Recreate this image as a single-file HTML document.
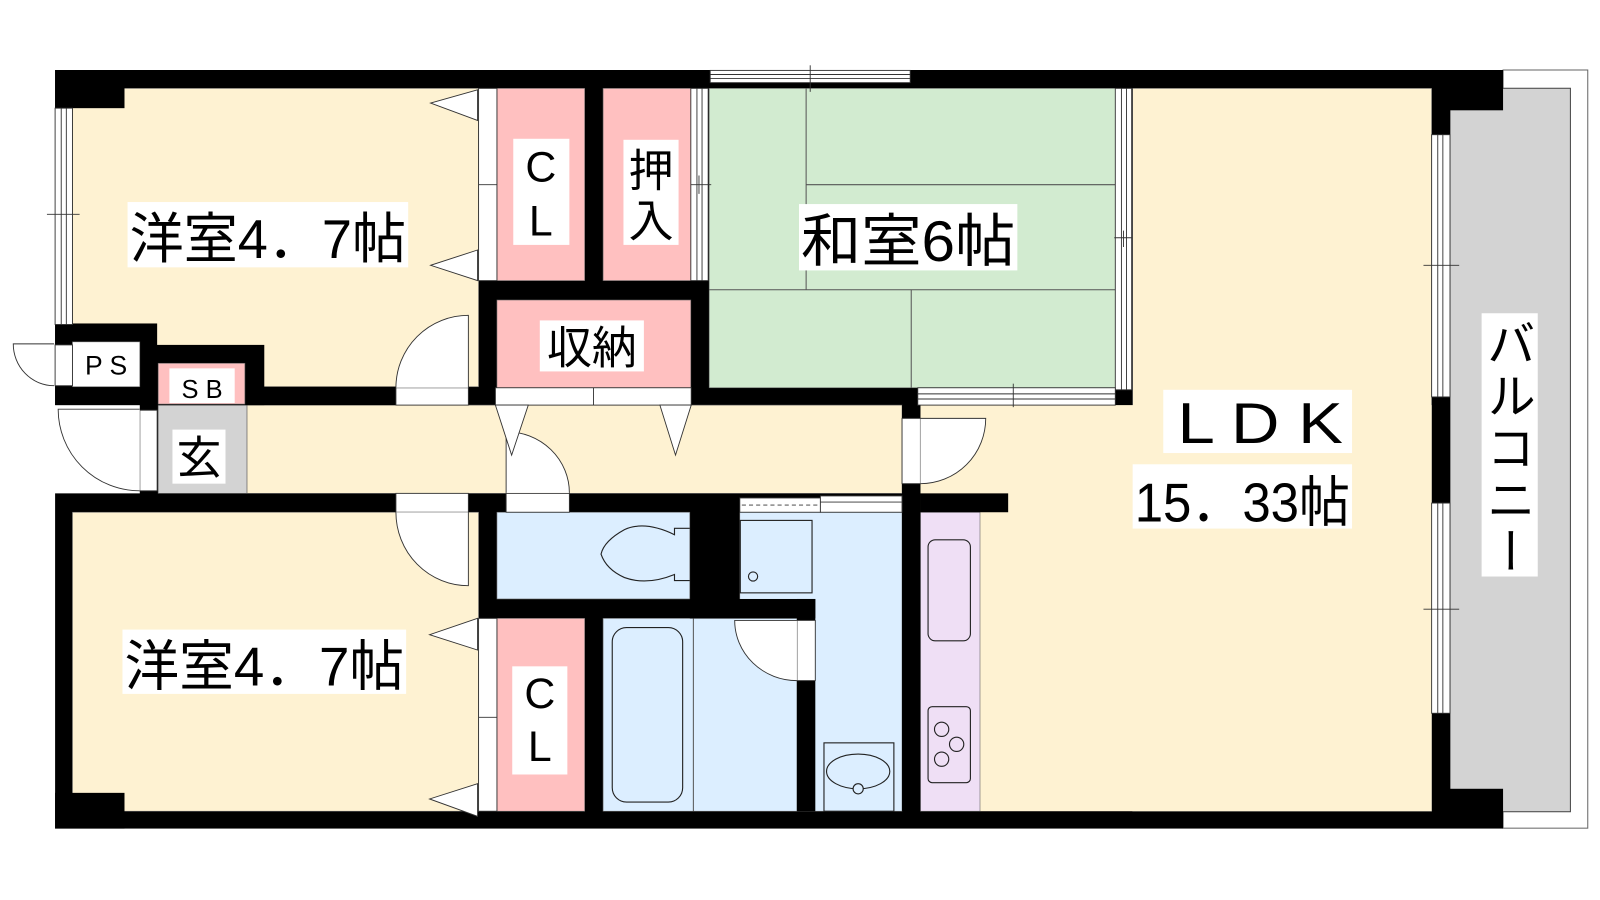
<!DOCTYPE html>
<html><head><meta charset="utf-8"><style>
html,body{margin:0;padding:0;background:#fff;}
svg{display:block;}
text{font-family:"Liberation Sans","Noto Sans CJK JP",sans-serif;fill:#000;}
</style></head><body>
<svg width="1600" height="900" viewBox="0 0 1568 882" preserveAspectRatio="none" xmlns="http://www.w3.org/2000/svg">
<rect x="0" y="0" width="1568" height="882" fill="#fff"/>
<rect x="1473" y="68.6" width="83" height="743" fill="#fff" stroke="#666" stroke-width="1"/>
<rect x="1421" y="86.5" width="118" height="709" fill="#d3d3d3" stroke="#444" stroke-width="1"/>
<rect x="54" y="68.6" width="1367" height="743.4" fill="#000"/>
<rect x="1421" y="68.6" width="52" height="39.5" fill="#000"/>
<rect x="1421" y="773" width="52" height="39" fill="#000"/>
<rect x="40" y="397" width="97" height="86.5" fill="#fff"/>
<g stroke="#666" stroke-width="0.6">
<rect x="71" y="86.6" width="398" height="292.4" fill="#fef2d2"/>
<rect x="487" y="86.6" width="86" height="188.4" fill="#ffc0c0"/>
<rect x="591" y="86.6" width="86" height="188.4" fill="#ffc0c0"/>
<rect x="695" y="86.6" width="398" height="293.4" fill="#d2ebd0"/>
<rect x="487" y="294" width="190" height="86" fill="#ffc0c0"/>
<rect x="242" y="397" width="642" height="86.5" fill="#fef2d2"/>
<rect x="155" y="397" width="87" height="86.5" fill="#d3d3d3"/>
<rect x="1110" y="86.6" width="293" height="708.4" fill="#fef2d2"/>
<rect x="902" y="397" width="501" height="398" fill="#fef2d2" stroke="none"/>
<rect x="902" y="502" width="58.4" height="293" fill="#efdff5"/>
<rect x="71" y="502" width="398" height="293" fill="#fef2d2"/>
<rect x="487" y="606" width="86" height="189" fill="#ffc0c0"/>
<rect x="487" y="502" width="189" height="85" fill="#dceeff"/>
<rect x="725" y="502" width="159" height="293" fill="#dceeff"/>
<rect x="591" y="606" width="190" height="189" fill="#dceeff"/>
</g>
<!-- walls re-drawn over rooms -->
<rect x="54" y="317" width="100" height="80" fill="#000"/>
<rect x="137" y="338" width="122" height="59" fill="#000"/>
<rect x="137" y="379" width="260" height="18" fill="#000"/>
<rect x="676" y="587" width="123" height="19" fill="#000"/>
<rect x="781" y="587" width="18" height="208" fill="#000"/>
<rect x="902" y="483.5" width="86" height="18.5" fill="#000"/>
<rect x="884" y="397" width="18" height="398" fill="#000"/>
<rect x="54" y="68.6" width="68" height="37.4" fill="#000"/>
<rect x="54" y="777" width="68" height="35" fill="#000"/>
<g stroke="#666" stroke-width="0.6">
<rect x="155" y="356" width="85" height="40" fill="#ffc0c0"/>
<rect x="71" y="335" width="66" height="44" fill="#fff"/>
</g>
<g stroke="#555" stroke-width="1" fill="none">
<line x1="790" y1="86.6" x2="790" y2="284"/>
<line x1="790" y1="181" x2="1093" y2="181"/>
<line x1="695" y1="284" x2="1093" y2="284"/>
<line x1="893" y1="284" x2="893" y2="380"/>
<line x1="679.5" y1="606" x2="679.5" y2="795"/>
</g>
<g fill="#fff" stroke="#333" stroke-width="0.9">
<rect x="54" y="106" width="17" height="212"/>
<line x1="60" y1="106" x2="60" y2="318"/><line x1="65" y1="106" x2="65" y2="318"/>
<line x1="46" y1="210" x2="78" y2="210"/>
<rect x="696" y="69" width="196" height="12"/>
<line x1="696" y1="73" x2="892" y2="73"/><line x1="696" y1="77" x2="892" y2="77"/>
<line x1="794" y1="64" x2="794" y2="90"/>
<rect x="677" y="86.6" width="17" height="188.4"/>
<line x1="683" y1="86.6" x2="683" y2="275"/><line x1="688" y1="86.6" x2="688" y2="275"/>
<line x1="677" y1="181" x2="697" y2="181"/><line x1="685" y1="172" x2="685" y2="190"/>
<rect x="1093" y="86.6" width="16" height="295.4"/>
<line x1="1099" y1="86.6" x2="1099" y2="382"/><line x1="1104" y1="86.6" x2="1104" y2="382"/>
<line x1="1092" y1="233" x2="1110" y2="233"/><line x1="1101" y1="226" x2="1101" y2="242"/>
<rect x="899.4" y="380" width="193.6" height="17"/>
<line x1="899.4" y1="386" x2="1093" y2="386"/><line x1="899.4" y1="391" x2="1093" y2="391"/>
<line x1="993" y1="376" x2="993" y2="399"/>
<rect x="1403" y="132" width="18" height="257"/>
<line x1="1409" y1="132" x2="1409" y2="389"/><line x1="1414" y1="132" x2="1414" y2="389"/>
<line x1="1395" y1="260" x2="1430" y2="260"/>
<rect x="1403" y="493" width="18" height="206"/>
<line x1="1409" y1="493" x2="1409" y2="699"/><line x1="1414" y1="493" x2="1414" y2="699"/>
<line x1="1395" y1="597" x2="1430" y2="597"/>
<rect x="725" y="488" width="79" height="14"/>
<line x1="727" y1="495" x2="802" y2="495" stroke-dasharray="4,3"/>
<rect x="804" y="486" width="80" height="16"/>
<line x1="804" y1="492" x2="884" y2="492"/>
<rect x="469" y="86.6" width="18" height="188.4"/>
<line x1="469" y1="181" x2="487" y2="181"/>
<rect x="469" y="606" width="18" height="189"/>
<line x1="469" y1="703" x2="487" y2="703"/>
<rect x="485.5" y="380" width="191.9" height="17"/>
<line x1="581.6" y1="380" x2="581.6" y2="397"/>
<rect x="388" y="380" width="71" height="17"/>
<rect x="388" y="483.5" width="71" height="18.5"/>
<rect x="496" y="483.5" width="62" height="18.5"/>
<rect x="884" y="410" width="18" height="64"/>
<rect x="781" y="608" width="18" height="59"/>
<rect x="137" y="402" width="17" height="79"/>
<rect x="54" y="338" width="17" height="40"/>
<path d="M459,380 L459,309 A71,71 0 0 0 388,380"/>
<path d="M459,502 L459,574 A71,72 0 0 1 388,502"/>
<path d="M137,401 L57,401 A80,80 0 0 0 137,481"/>
<path d="M53,337 L13,337 A40,41 0 0 0 53,378"/>
<path d="M496,483 L496,423 A62,60 0 0 1 558,483"/>
<path d="M902,410 L966,410 A64,64 0 0 1 902,474"/>
<path d="M781,608 L720,608 A61,59 0 0 0 781,667"/>
<polygon points="468,88 422,101 468,118"/>
<polygon points="468,245 422,260 468,275"/>
<polygon points="468,606 421,622 468,637"/>
<polygon points="468,768 421,783 468,800"/>
<polygon points="485.5,397 517.7,397 501.4,446"/>
<polygon points="646.7,397 677.4,397 662,446"/>
</g>
<g fill="none" stroke="#222" stroke-width="1.1">
<path d="M676,517.7 L661,517.7 L661,524 Q632,510 612,519 Q592,530 589,543 Q594,558 612,566 Q634,574 661,563 L661,569 L676,569"/>
<rect x="725.5" y="510" width="70.3" height="71"/>
<circle cx="738" cy="565" r="4.5"/>
<rect x="600" y="615" width="69" height="171" rx="14"/>
<rect x="807.5" y="728" width="68.5" height="67"/>
<ellipse cx="841" cy="756" rx="31" ry="17"/>
<circle cx="841" cy="773" r="5" fill="#dceeff"/>
<rect x="909.5" y="529" width="41.5" height="99" rx="7"/>
<rect x="909.5" y="692.5" width="41.5" height="74.5" rx="4"/>
<circle cx="922.8" cy="714.7" r="7"/>
<circle cx="937.5" cy="729.4" r="7"/>
<circle cx="922.8" cy="744" r="7"/>
</g>
<g fill="#fff">
<rect x="125" y="198" width="275" height="64"/>
<rect x="120" y="617" width="278" height="63"/>
<rect x="783" y="200" width="214" height="65"/>
<rect x="503" y="136" width="55" height="104"/>
<rect x="611" y="137" width="54" height="103"/>
<rect x="529" y="314" width="102" height="50"/>
<rect x="502" y="653" width="54" height="106"/>
<rect x="166" y="361" width="64" height="34"/>
<rect x="169" y="421" width="52" height="53"/>
<rect x="1140" y="382" width="185" height="62"/>
<rect x="1110" y="455" width="215" height="63"/>
<rect x="1452" y="307" width="55" height="258"/>
</g>
<text x="127" y="253" font-size="54" textLength="271" lengthAdjust="spacingAndGlyphs">洋室4．7帖</text>
<text x="122" y="672" font-size="54" textLength="274" lengthAdjust="spacingAndGlyphs">洋室4．7帖</text>
<text x="785" y="256" font-size="56" textLength="210" lengthAdjust="spacingAndGlyphs">和室6帖</text>
<text x="530" y="178" font-size="42" text-anchor="middle">C</text>
<text x="530" y="231" font-size="42" text-anchor="middle">L</text>
<text x="638" y="183" font-size="44" text-anchor="middle">押</text>
<text x="638" y="232" font-size="44" text-anchor="middle">入</text>
<text x="580" y="356" font-size="44" text-anchor="middle">収納</text>
<text x="529" y="694" font-size="42" text-anchor="middle">C</text>
<text x="529" y="746" font-size="42" text-anchor="middle">L</text>
<text x="104" y="367" font-size="26" text-anchor="middle">P S</text>
<text x="198" y="390" font-size="25" text-anchor="middle">S B</text>
<text x="195" y="464" font-size="44" text-anchor="middle">玄</text>
<text x="1154" y="434" font-size="56" textLength="162" lengthAdjust="spacingAndGlyphs">L D K</text>
<text x="1112" y="511" font-size="54" textLength="211" lengthAdjust="spacingAndGlyphs">15．33帖</text>
<text x="1481" y="312" font-size="48" writing-mode="vertical-rl" style="writing-mode:vertical-rl;font-family:'Noto Sans CJK JP',sans-serif" letter-spacing="3">バルコニー</text>
</svg>
</body></html>
